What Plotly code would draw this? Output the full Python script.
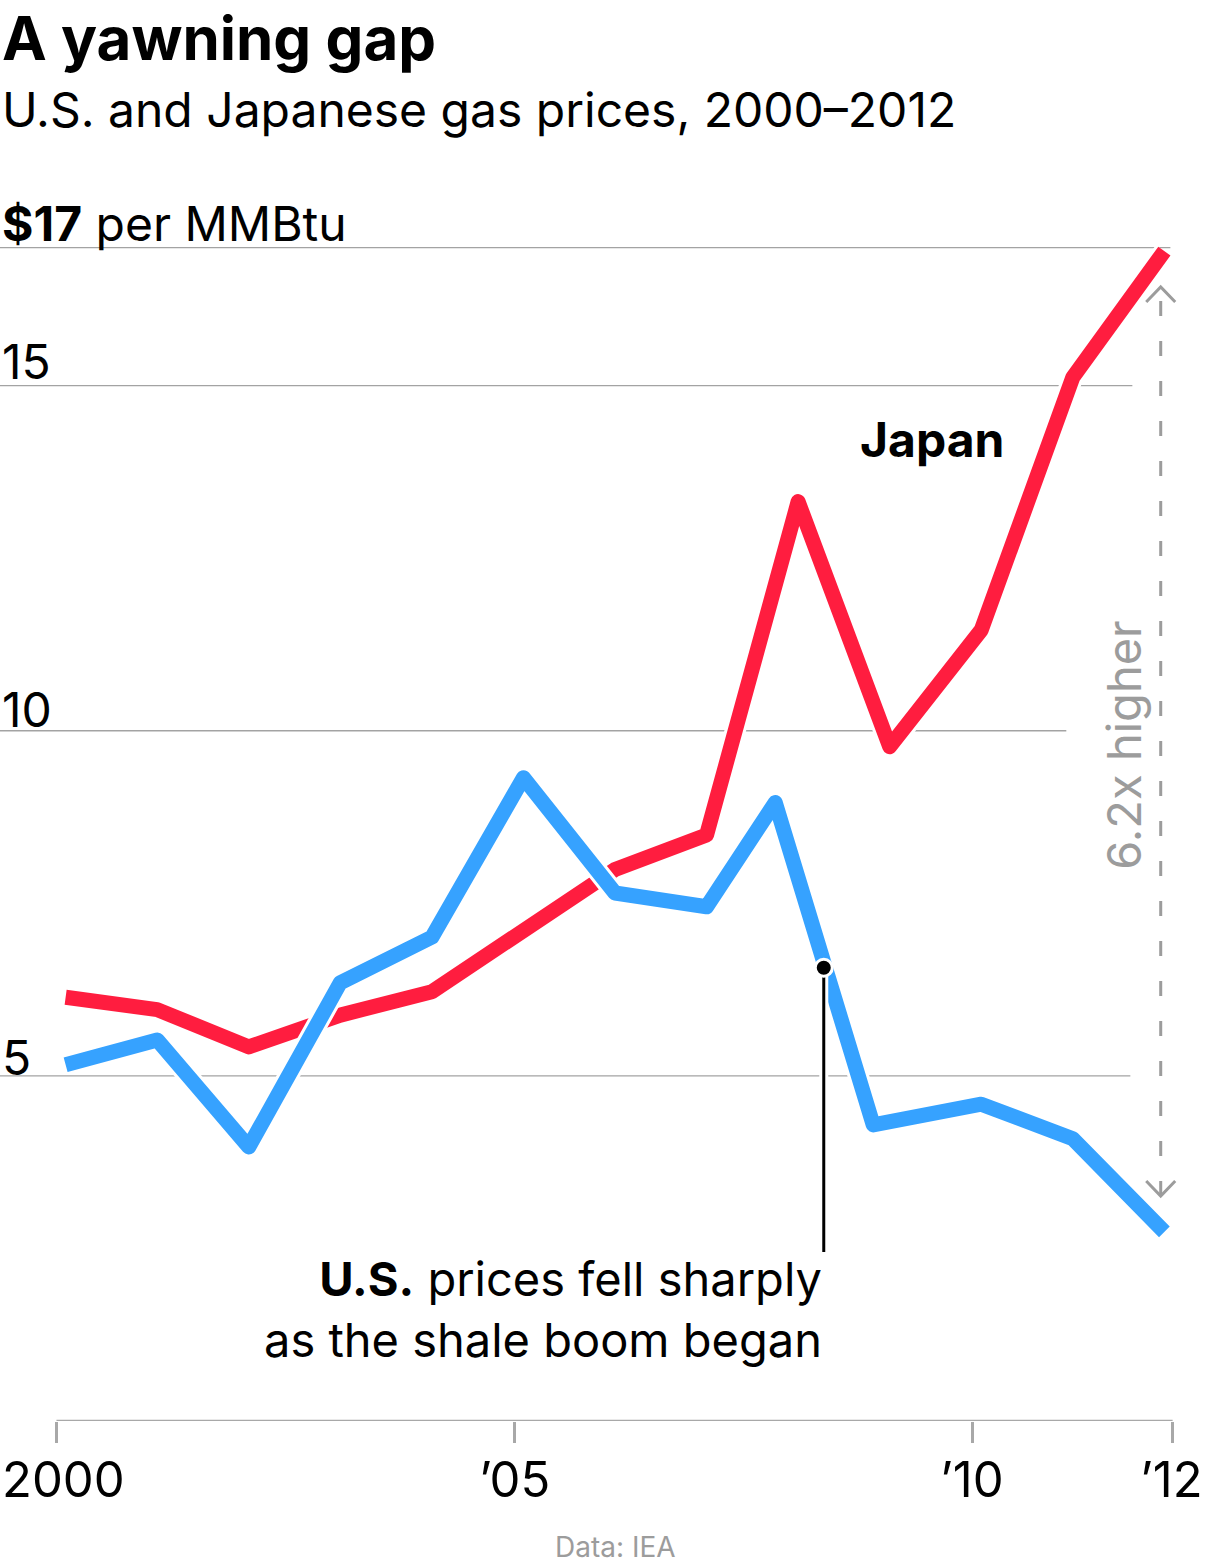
import numpy as np
import plotly.graph_objects as go

# ---------------- data ----------------
years = [2000, 2001, 2002, 2003, 2004, 2005, 2006, 2007, 2008, 2009, 2010, 2011, 2012]
japan = [6.14, 5.96, 5.42, 5.88, 6.22, 7.10, 7.99, 8.49, 13.32, 9.77, 11.46, 15.12, 16.95]
us_years = [2000, 2001, 2002, 2003, 2004, 2005, 2006, 2007, 2007.75, 2008.82, 2010, 2011, 2012]
us = [5.16, 5.52, 3.97, 6.35, 7.01, 9.32, 7.65, 7.45, 8.96, 4.29, 4.59, 4.09, 2.74]

grid_values = [5, 10, 15, 17]
grid_labels = ["5", "10", "15", "<b>$17</b> per MMBtu"]
tick_vals = [1999.9, 2004.9, 2009.9, 2012.09]
tick_text = ["2000", "\u201905", "\u201910", "\u201912"]

callout_year = 2008.28
callout_end = 2.45

# ---------------- styling / geometry ----------------
W, H = 1206, 1567
RED = "#ff1d3f"
BLUE = "#36a2ff"
GRID = "#a3a3a3"
GRAY = "#9c9c9c"
FONT = "Inter"
LW = 15
HALO = 21

PX_PER_YEAR = 91.5
X0_PX = 66.0           # pixel of year 2000
PX_PER_UNIT = 69.0
Y0_PX = 1421.0         # pixel of value 0
xr = [1999.6, 2012.4]
yr = [0, 17.4]
L = X0_PX + (xr[0] - 2000) * PX_PER_YEAR
R = X0_PX + (xr[1] - 2000) * PX_PER_YEAR
T = Y0_PX - yr[1] * PX_PER_UNIT
PW = R - L
PH = Y0_PX - T


def px_x(p):
    return (p - L) / PW


def px_y(p):
    return (Y0_PX - p) / PH


grid_end_px = [1130, 1066, 1132, 1170]
label_shift = [18, 21, 24, 24]

fig = go.Figure()

# Japan line with white halo
fig.add_trace(go.Scatter(x=years, y=japan, mode="lines",
                         line=dict(color="white", width=HALO), hoverinfo="skip", showlegend=False))
fig.add_trace(go.Scatter(x=years, y=japan, mode="lines", name="Japan",
                         line=dict(color=RED, width=LW), showlegend=False))
# US line with white halo
fig.add_trace(go.Scatter(x=us_years, y=us, mode="lines",
                         line=dict(color="white", width=HALO), hoverinfo="skip", showlegend=False))
fig.add_trace(go.Scatter(x=us_years, y=us, mode="lines", name="U.S.",
                         line=dict(color=BLUE, width=LW), showlegend=False))

# callout
callout_val = float(np.interp(callout_year, us_years, us)) - 0.08
fig.add_trace(go.Scatter(x=[callout_year, callout_year], y=[callout_val, callout_end], mode="lines",
                         line=dict(color="white", width=9), hoverinfo="skip", showlegend=False))
fig.add_trace(go.Scatter(x=[callout_year, callout_year], y=[callout_val, callout_end], mode="lines",
                         line=dict(color="black", width=3), hoverinfo="skip", showlegend=False))
fig.add_trace(go.Scatter(x=[callout_year], y=[callout_val], mode="markers",
                         marker=dict(color="black", size=17, line=dict(color="white", width=3)),
                         hoverinfo="skip", showlegend=False))

shapes = []
# gridlines
for v, e in zip(grid_values, grid_end_px):
    shapes.append(dict(type="line", xref="paper", yref="y", x0=px_x(0), x1=px_x(e), y0=v, y1=v,
                       line=dict(color=GRID, width=1.3), layer="below"))
# x axis baseline
shapes.append(dict(type="line", xref="x", yref="y", x0=tick_vals[0], x1=tick_vals[-1], y0=0, y1=0,
                   line=dict(color="#a8a8a8", width=2.5), layer="below"))

# gap arrow
arrow_x = 2011.96
arrow_top = japan[-1] - 0.52
arrow_bot = us[-1] + 0.52
shapes.append(dict(type="line", xref="x", yref="y", x0=arrow_x, x1=arrow_x, y0=arrow_bot, y1=arrow_top,
                   line=dict(color=GRAY, width=3, dash="15px,25px")))
shapes.append(dict(type="path", xref="x", yref="y", xsizemode="pixel", ysizemode="pixel",
                   xanchor=arrow_x, yanchor=arrow_top, path="M -14.5,-15 L 0,0 L 14.5,-15",
                   line=dict(color=GRAY, width=3)))
shapes.append(dict(type="path", xref="x", yref="y", xsizemode="pixel", ysizemode="pixel",
                   xanchor=arrow_x, yanchor=arrow_bot, path="M -14.5,15 L 0,0 L 14.5,15",
                   line=dict(color=GRAY, width=3)))

ann = []
# title / subtitle
ann.append(dict(text="<b>A yawning gap</b>", xref="paper", yref="paper", x=px_x(0), y=px_y(0),
                xanchor="left", yanchor="top", showarrow=False,
                font=dict(family=FONT, size=60, color="black")))
ann.append(dict(text="U.S. and Japanese gas prices, 2000\u20132012", xref="paper", yref="paper",
                x=px_x(0), y=px_y(110), xanchor="left", yanchor="middle", showarrow=False,
                font=dict(family=FONT, size=48, color="black")))
# gridline labels
for v, lab, s in zip(grid_values, grid_labels, label_shift):
    ann.append(dict(text=lab, xref="paper", yref="y", x=px_x(0), y=v, yshift=s,
                    xanchor="left", yanchor="middle", showarrow=False,
                    font=dict(family=FONT, size=48, color="black")))
# x tick labels (first one flush with the left edge, last one with the right edge)
tick_anchor = ["left", "center", "center", "right"]
for tv, tt, xa in zip(tick_vals, tick_text, tick_anchor):
    if xa == "left":
        xpos, xref = px_x(0), "paper"
    elif xa == "right":
        xpos, xref = px_x(1205), "paper"
    else:
        xpos, xref = tv, "x"
    ann.append(dict(text=tt, xref=xref, yref="paper", x=xpos, y=px_y(1479),
                    xanchor=xa, yanchor="middle", showarrow=False,
                    font=dict(family=FONT, size=49, color="black")))
# series label
ann.append(dict(text="<b>Japan</b>", xref="x", yref="y", x=2010.27, y=14.22, xanchor="right",
                yanchor="middle", showarrow=False, font=dict(family=FONT, size=48, color="black")))
# callout text
ann.append(dict(text="<b>U.S.</b> prices fell sharply<br>as the shale boom began", xref="x", yref="y",
                x=callout_year, y=1.62, xanchor="right", yanchor="middle", align="right",
                showarrow=False, font=dict(family=FONT, size=47, color="black")))
# ratio label
ratio = japan[-1] / us[-1]
ann.append(dict(text=f"{ratio:.1f}x higher", xref="x", yref="y", x=2011.55, y=9.8, textangle=-90,
                xanchor="center", yanchor="middle", showarrow=False,
                font=dict(family=FONT, size=47, color=GRAY)))
# source
ann.append(dict(text="Data: IEA", xref="paper", yref="paper", x=px_x(615), y=px_y(1547),
                xanchor="center", yanchor="middle", showarrow=False,
                font=dict(family=FONT, size=28, color=GRAY)))

fig.update_layout(
    width=W, height=H,
    margin=dict(l=L, r=W - R, t=T, b=H - Y0_PX, autoexpand=False),
    plot_bgcolor="white", paper_bgcolor="white",
    xaxis=dict(range=xr, showgrid=False, zeroline=False, showline=False,
               tickvals=tick_vals, ticktext=["" for _ in tick_vals], ticks="outside", ticklen=21,
               tickwidth=2.5, tickcolor="#a8a8a8", fixedrange=True),
    yaxis=dict(range=yr, visible=False, fixedrange=True),
    shapes=shapes, annotations=ann, showlegend=False,
)

round_joins = (
    "document.querySelectorAll('.scatterlayer path.js-line').forEach(function(p){"
    "p.style.strokeLinejoin='round';p.style.strokeMiterlimit='10';});"
)
fig.write_html("out.html", post_script=round_joins)
